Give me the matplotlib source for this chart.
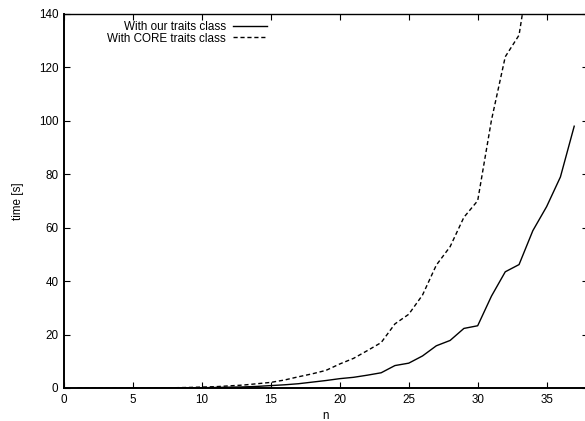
import numpy as np
import matplotlib
matplotlib.use('Agg')
import matplotlib.pyplot as plt

plt.rcParams['font.family'] = ['Liberation Sans', 'DejaVu Sans']

# n values and timings (s)
n = [1, 2, 3, 4, 5, 6, 7, 8, 9, 10, 11, 12, 13, 14, 15, 16, 17, 18, 19,
     20, 21, 22, 23, 24, 25, 26, 27, 28, 29, 30, 31, 32, 33, 34, 35, 36, 37]
t_ours = [0, 0, 0, 0, 0, 0, 0.01, 0.02, 0.05, 0.1, 0.2, 0.3, 0.4, 0.6, 0.9,
          1.2, 1.6, 2.2, 2.8, 3.5, 4.0, 4.8, 5.7, 8.4, 9.3, 12.0, 15.8, 17.8,
          22.3, 23.3, 34.4, 43.5, 46.2, 58.9, 67.9, 79.0, 98.0]
n_core = n[:34]
t_core = [0, 0, 0, 0, 0, 0, 0.02, 0.1, 0.2, 0.35, 0.5, 0.8, 1.1, 1.6, 2.1,
          3.0, 4.2, 5.3, 6.6, 9.0, 11.1, 14.0, 17.0, 24.0, 27.6, 34.8, 46.0,
          52.9, 63.9, 70.1, 100.3, 124.0, 132.1, 165.0]

fs = 8.4
fig = plt.figure(figsize=(5.85, 4.21), dpi=100)
ax = fig.add_axes([64/585, 33/421, 524/585, 374/421])

ax.plot(n, t_ours, color='black', lw=1.0, label='With our traits class')
ax.plot(n_core, t_core, color='black', lw=1.0, ls=(0, (3, 2)),
        label='With CORE traits class')

ax.set_xlim(0, 38)
ax.set_ylim(0, 140)
ax.set_xticks([0, 5, 10, 15, 20, 25, 30, 35])
ax.set_yticks(np.arange(0, 141, 20))
ax.tick_params(direction='in', length=4, width=0.8, labelsize=fs,
               top=True, right=True, pad=4)
for s in ax.spines.values():
    s.set_linewidth(1.0)
ax.spines['left'].set_linewidth(1.4)
ax.spines['bottom'].set_linewidth(1.4)

ax.set_xlabel('n', fontsize=fs, labelpad=3)
ax.set_ylabel('time [s]', fontsize=fs, labelpad=11)

ax.legend(loc='upper right', bbox_to_anchor=(0.387, 0.981), frameon=False,
          markerfirst=False, fontsize=fs, handlelength=2.9, handletextpad=0.6,
          labelspacing=-0.05, borderaxespad=0.0, borderpad=0.0)

fig.savefig('out.png', dpi=100)
